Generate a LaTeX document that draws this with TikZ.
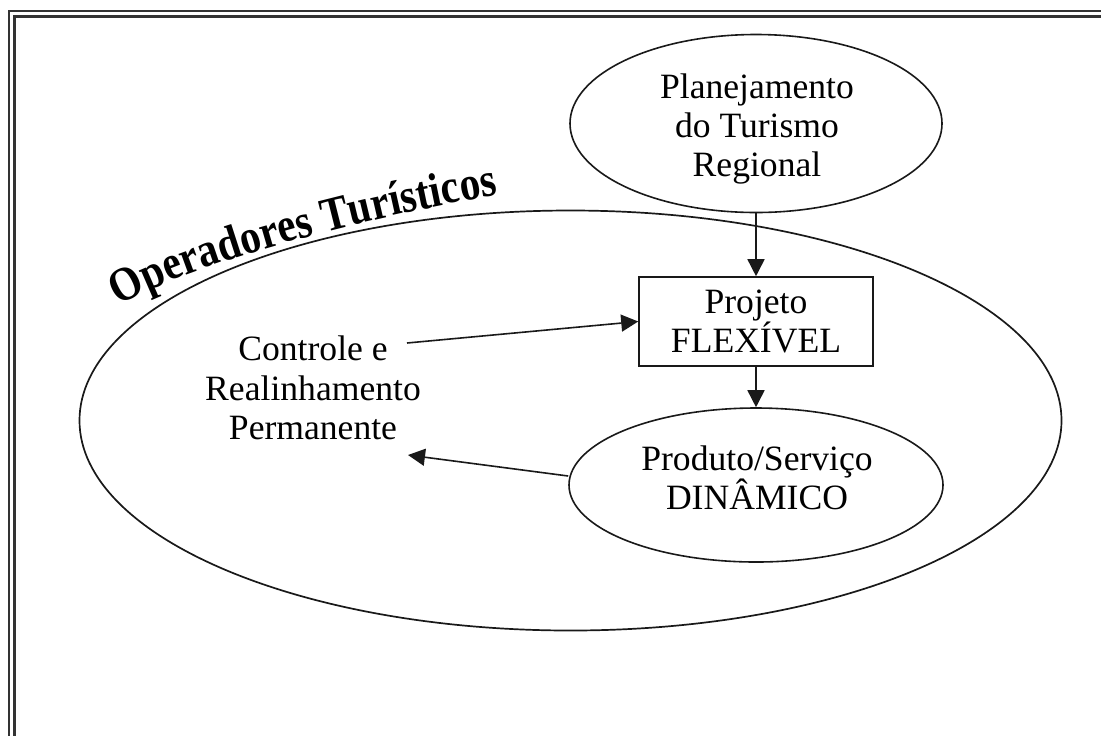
\documentclass[tikz,border=0pt]{standalone}
\usepackage{fontspec}
\setmainfont{Liberation Serif}
\newfontfamily\titlefont{Liberation Serif}[FakeStretch=0.86]
\usetikzlibrary{shapes.geometric,arrows.meta,decorations.text}
\begin{document}
\begin{tikzpicture}[x=0.5pt,y=-0.5pt,
  frameline/.style={line width=1.3pt,draw=black!80},
  ell/.style={ellipse,draw=black!90,line width=0.8pt,inner sep=0pt},
  bigell/.style={ellipse,draw=black!90,line width=0.85pt,inner sep=0pt,minimum width=491pt,minimum height=210pt},
  boxnode/.style={rectangle,draw=black!90,line width=0.8pt,inner sep=0pt,minimum width=117pt,minimum height=44.5pt,align=center,font=\fontsize{17.8}{19.5}\selectfont},
  txt/.style={inner sep=0pt,align=center,font=\fontsize{17.8}{19.6}\selectfont},
  arr/.style={draw=black!90,line width=0.8pt,-{Triangle[length=8.5pt,width=8.5pt]}}
]
\useasboundingbox (0,0) rectangle (1101,735);
\clip (0,0) rectangle (1101,735);
\fill[white] (0,0) rectangle (1101,735);
% double frame
\draw[frameline] (8.8,760) -- (8.8,11) -- (1120,11);
\draw[frameline] (14.5,760) -- (14.5,16.3) -- (1120,16.3);
% big ellipse
\node[bigell] (oper) at (570.5,420.5) {};
% nodes
\node[ell,minimum width=186pt,minimum height=89pt] (plan) at (756,123.5) {};
\node[txt] (plantxt) at (757,129) {Planejamento\\do Turismo\\Regional};
\node[boxnode] (proj) at (756,321.5) {Projeto\\FLEXÍVEL};
\node[ell,minimum width=187pt,minimum height=77pt] (prod) at (756,485) {};
\node[txt] (prodtxt) at (757,478) {Produto/Serviço\\DINÂMICO};
\node[txt] (ctrl) at (313,388) {Controle e\\Realinhamento\\Permanente};
\coordinate (cin) at (407,343);
\coordinate (cout) at (408,455);
% connectors
\draw[arr] (plan.south) -- (proj.north);
\draw[arr] (proj.south) -- (prod.north);
\draw[arr] (cin) -- (proj.west);
\draw[arr] ([yshift=4.5pt]prod.west) -- (cout);
% curved title
\path[decorate,decoration={text along path,
  text={|\titlefont\fontsize{24}{28}\selectfont\bfseries|Operadores Turísticos},
  text align={fit to path}}]
  (119,306) .. controls (200,258) and (395,212) .. (498,195);
\end{tikzpicture}
\end{document}
